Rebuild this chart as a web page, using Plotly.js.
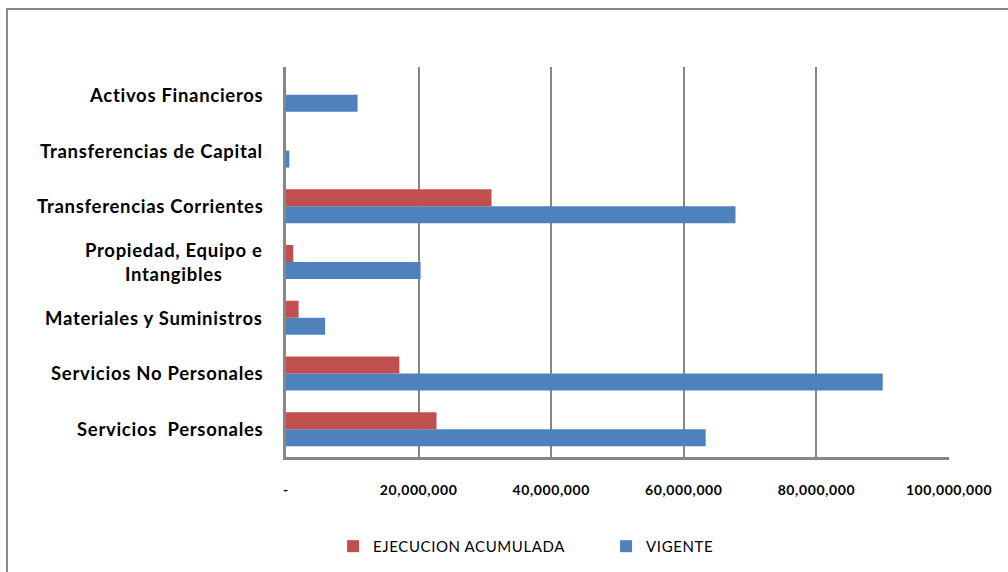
<!DOCTYPE html>
<html>
<head>
<meta charset="utf-8">
<script src="https://cdn.plot.ly/plotly-3.0.1.min.js"></script>
<style>
  html, body { margin: 0; padding: 0; background: #fff; }
  #wrap { position: relative; width: 1008px; height: 572px; overflow: hidden; }
  #chart { width: 1008px; height: 572px; }
  #frame { position: absolute; left: 6px; top: 8px; width: 1020px; height: 580px;
           border: 2px solid #878787; pointer-events: none; box-sizing: border-box; }
  .xtick text { letter-spacing: 0.6px; }
  .legendtext { letter-spacing: 0.6px; }
  .annotation-text { letter-spacing: 0.7px; }
</style>
</head>
<body>
<div id="wrap">
  <div id="chart"></div>
  <div id="frame"></div>
</div>
<script>
const categories = [
  "Servicios  Personales",
  "Servicios No Personales",
  "Materiales y Suministros",
  "Propiedad, Equipo e<br>Intangibles",
  "Transferencias Corrientes",
  "Transferencias de Capital",
  "Activos Financieros"
];
const ejecucionAcumulada = [22700000, 17100000, 1900000, 1100000, 31000000, 0, 0];
const vigente = [63300000, 90000000, 5900000, 20300000, 67800000, 500000, 10800000];
const seriesNames = ["EJECUCION ACUMULADA", "VIGENTE"];
const xTickValues = [0, 20000000, 40000000, 60000000, 80000000, 100000000];
const xTickLabels = ["-", "20,000,000", "40,000,000", "60,000,000", "80,000,000", "100,000,000"];

const traces = [
  { type: "bar", orientation: "h", name: seriesNames[1], y: categories, x: vigente,
    marker: { color: "#4F81BD" }, hoverinfo: "x+y" },
  { type: "bar", orientation: "h", name: seriesNames[0], y: categories, x: ejecucionAcumulada,
    marker: { color: "#C0504D" }, hoverinfo: "x+y" }
];

const annotations = categories.map(c => ({
  xref: "paper", yref: "y", x: -0.032, y: c, text: c,
  xanchor: "right", yanchor: "middle", align: "center", showarrow: false,
  font: { family: "Lato, 'Open Sans', sans-serif", size: 18.5, color: "#000", weight: "bold" }
}));

const layout = {
  width: 1008, height: 572,
  margin: { l: 286, r: 59, t: 67, b: 115, autoexpand: false },
  paper_bgcolor: "#fff", plot_bgcolor: "#fff",
  barmode: "group", bargap: 0.39, bargroupgap: 0,
  showlegend: true,
  legend: {
    orientation: "h", traceorder: "reversed",
    x: 0.071, xanchor: "left", y: -0.187, yanchor: "top",
    itemwidth: 30, entrywidth: 228, entrywidthmode: "pixels",
    font: { family: "Lato, 'Open Sans', sans-serif", size: 15, color: "#000" }
  },
  xaxis: {
    range: [0, 100000000], tickvals: xTickValues, ticktext: xTickLabels,
    showgrid: true, gridcolor: "#868686", gridwidth: 2,
    showline: true, linecolor: "#868686", linewidth: 3,
    zeroline: false, ticks: "outside", ticklen: 18, tickcolor: "rgba(0,0,0,0)",
    tickfont: { family: "Lato, 'Open Sans', sans-serif", size: 14, color: "#000", weight: "bold" },
    fixedrange: true
  },
  yaxis: {
    type: "category", categoryarray: categories, categoryorder: "array",
    showticklabels: false, showgrid: false, zeroline: false,
    showline: true, linecolor: "#868686", linewidth: 3, ticks: "",
    fixedrange: true
  },
  annotations: annotations
};

Plotly.newPlot("chart", traces, layout, { displayModeBar: false, staticPlot: true });
</script>
</body>
</html>
